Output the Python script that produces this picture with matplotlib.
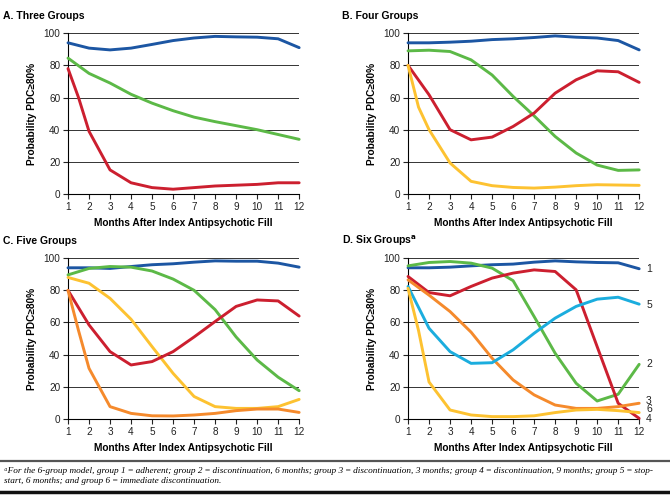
"""
Trajectory plots of monthly adherence (PDC >= 80%) for 3, 4, 5 and 6 group models
"""
import matplotlib
matplotlib.use('agg')
import matplotlib.pyplot as plt

plt.rcParams['font.family'] = ['Liberation Sans', 'DejaVu Sans']

months = [1, 2, 3, 4, 5, 6, 7, 8, 9, 10, 11, 12]
months_h = [1, 1.5, 2, 3, 4, 5, 6, 7, 8, 9, 10, 11, 12]  # extra half month for steep starts

# A. Three groups
a_blue = [94, 90.7, 89.6, 90.7, 93, 95.4, 97, 98, 97.7, 97.5, 96.5, 91]
a_green = [84.5, 75, 69, 62, 56.5, 51.8, 47.8, 45, 42.5, 40, 37, 34]
a_red = [78, 60, 39, 15, 7, 4, 3, 4, 5, 5.5, 6, 7, 7]

# B. Four groups
b_blue = [94, 94, 94.4, 95, 96, 96.5, 97.3, 98.3, 97.5, 97, 95.4, 89.6]
b_green = [89, 89.4, 88.6, 83.4, 74, 60.7, 48.6, 35.8, 25.5, 18, 14.7, 15]
b_red = [80, 61.7, 40, 33.7, 35.4, 42, 50.3, 62.7, 71, 76.6, 76, 69.4]
b_yellow = [80, 54, 40, 19.3, 7.9, 5.2, 4.1, 3.7, 4.3, 5.2, 5.8, 5.6, 5.4]

# C. Five groups
c_blue = [94, 94, 93.6, 94.8, 95.9, 96.5, 97.5, 98.3, 98.1, 98.1, 96.9, 94.4]
c_green = [89.6, 93.6, 94.8, 94.4, 92, 87, 80, 68, 51, 36.7, 26, 17.6]
c_yellow = [88, 84.4, 75, 62, 45, 28.4, 14, 7.7, 6.6, 6.6, 7.7, 12.2]
c_red = [80, 58.5, 41.9, 33.6, 35.7, 41.9, 51, 60.6, 70, 74, 73.4, 64]
c_orange = [80, 55, 31.5, 7.7, 3.5, 2, 1.9, 2.5, 3.5, 5.2, 6.2, 6.2, 4.1]

# D. Six groups
d_blue = [94, 94, 94.4, 95.2, 95.9, 96.3, 97.5, 98.3, 97.7, 97.3, 97.1, 93.4]
d_green = [95.2, 97.3, 97.9, 96.9, 93.8, 86, 63.7, 40.9, 22.2, 11.2, 15.4, 34]
d_red = [88.6, 78.6, 76.6, 82.4, 87.6, 90.7, 92.7, 91.7, 80.3, 45, 9.8, 0.4]
d_orange = [86.5, 77, 66.8, 54, 37.8, 24.3, 15, 8.7, 6.6, 6.6, 7.7, 9.8]
d_cyan = [82.4, 56.4, 41.9, 34.6, 35, 43, 53.3, 62.7, 70, 74.5, 75.7, 71.4]
d_yellow = [81.3, 55, 23, 5.6, 2.5, 1.5, 1.5, 2, 4, 5.6, 6, 5.2, 4]

d_labels = ['1', '5', '2', '3', '6', '4']
d_label_y = [93, 71, 34, 11.5, 6, 0]

BLUE = '#1c56a3'
GREEN = '#5cb947'
RED = '#cc1f2f'
YELLOW = '#fdc231'
ORANGE = '#f58a2c'
CYAN = '#1badde'

XLABEL = 'Months After Index Antipsychotic Fill'
YLABEL = 'Probability PDC\u226580%'


def style_axes(ax):
    ax.set_xlim(1, 12)
    ax.set_ylim(0, 100)
    ax.set_xticks(months)
    ax.set_yticks([0, 20, 40, 60, 80, 100])
    ax.tick_params(labelsize=7.2, length=3.5, width=0.8, pad=2, colors='#222222')
    for y in [20, 40, 60, 80, 100]:
        ax.axhline(y, color='#333333', lw=0.7, zorder=1)
    ax.spines['top'].set_visible(False)
    ax.spines['right'].set_visible(False)
    ax.spines['left'].set_linewidth(0.8)
    ax.spines['bottom'].set_linewidth(0.8)
    ax.set_xlabel(XLABEL, fontsize=7.3, fontweight='bold', labelpad=4.5)
    ax.set_ylabel(YLABEL, fontsize=7.3, fontweight='bold', labelpad=5)
    ax.patch.set_visible(False)


def line(ax, x, y, c):
    ax.plot(x, y, color=c, lw=2.1, solid_capstyle='round', solid_joinstyle='round', zorder=3,
            clip_on=False)


fig = plt.figure(figsize=(6.7, 4.95), dpi=100)

ax_a = fig.add_axes([0.1015, 0.608, 0.345, 0.325])
ax_b = fig.add_axes([0.609, 0.608, 0.345, 0.325])
ax_c = fig.add_axes([0.1015, 0.1535, 0.345, 0.325])
ax_d = fig.add_axes([0.609, 0.1535, 0.345, 0.325])

for ax in [ax_a, ax_b, ax_c, ax_d]:
    style_axes(ax)

line(ax_a, months, a_blue, BLUE)
line(ax_a, months, a_green, GREEN)
line(ax_a, months_h, a_red, RED)

line(ax_b, months, b_blue, BLUE)
line(ax_b, months, b_green, GREEN)
line(ax_b, months, b_red, RED)
line(ax_b, months_h, b_yellow, YELLOW)

line(ax_c, months, c_blue, BLUE)
line(ax_c, months, c_green, GREEN)
line(ax_c, months, c_yellow, YELLOW)
line(ax_c, months, c_red, RED)
line(ax_c, months_h, c_orange, ORANGE)

line(ax_d, months, d_blue, BLUE)
line(ax_d, months, d_green, GREEN)
line(ax_d, months, d_red, RED)
line(ax_d, months, d_orange, ORANGE)
line(ax_d, months, d_cyan, CYAN)
line(ax_d, months_h, d_yellow, YELLOW)

for lab, yv in zip(d_labels, d_label_y):
    ax_d.annotate(lab, (12, yv), xytext=(5, 0), textcoords='offset points',
                  va='center', ha='left', fontsize=7.5, color='#222222')

# panel titles
fig.text(0.004, 0.968, 'A. Three Groups', fontsize=7.5, fontweight='bold', va='center')
fig.text(0.511, 0.968, 'B. Four Groups', fontsize=7.5, fontweight='bold', va='center')
fig.text(0.004, 0.513, 'C. Five Groups', fontsize=7.5, fontweight='bold', va='center')
fig.text(0.511, 0.513, r'D. Six Groups$^\mathbf{a}$', fontsize=7.5, fontweight='bold', va='center')

# footnote with rules
fig.add_artist(plt.Line2D([0, 1], [0.0687, 0.0687], color='#555555', lw=1.6))
fig.add_artist(plt.Line2D([0, 1], [0.006, 0.006], color='#111111', lw=2.5))
note = ('\u1d43For the 6-group model, group 1\u2009=\u2009adherent; group 2\u2009=\u2009discontinuation, 6 months; '
        'group 3\u2009=\u2009discontinuation, 3 months; group 4\u2009=\u2009discontinuation, 9 months; '
        'group 5\u2009=\u2009stop-\nstart, 6 months; and group 6\u2009=\u2009immediate discontinuation.')
fig.text(0.006, 0.0384, note, fontsize=6.65, style='italic', va='center', linespacing=1.4,
         family=['Liberation Serif', 'DejaVu Serif'])

fig.savefig('out.png', dpi=100)
